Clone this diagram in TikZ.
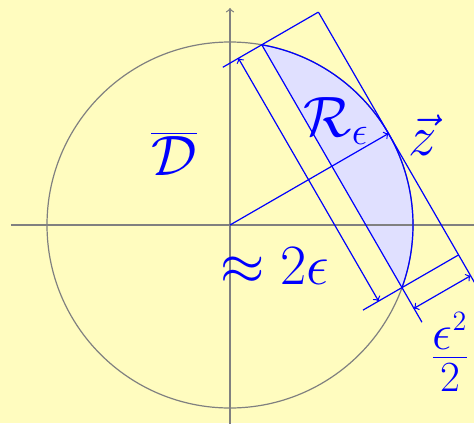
\RequirePackage{fix-cm}
\documentclass[tikz,border=0pt]{standalone}
\usetikzlibrary{calc}
\newcommand{\fracpart}[2]{\mbox{\fontsize{#1}{#1}\selectfont$#2$}}
\begin{document}
\begin{tikzpicture}[x=0.5pt,y=0.5pt,
  axisline/.style={draw=gray,line width=0.6pt},
  bline/.style={draw=blue,line width=0.6pt},
  lbl/.style={text=blue,inner sep=0pt,font=\fontsize{28.5}{34}\selectfont}]
\fill[yellow!25] (-230,-198) rectangle (244,225);
\useasboundingbox (-230,-198) rectangle (244,225);
\clip (-230,-198) rectangle (244,225);
\coordinate (O) at (0,0);
\coordinate (A) at (80:183);
\coordinate (B) at (-20:183);
\coordinate (Z) at (30:183);
\coordinate (A2) at ($(Z)+(120:140.2)$);
\coordinate (B2) at ($(Z)+(-60:140.2)$);
\coordinate (Aext) at ($(A)+(210:45)$);
\coordinate (Bext) at ($(B)+(210:45)$);
\coordinate (Bend) at ($(B)+(-60:40)$);
\coordinate (B2end) at ($(B2)+(-60:40)$);
\coordinate (D1a) at ($(A)+(210:27)$);
\coordinate (D1b) at ($(B)+(210:27)$);
\coordinate (D2a) at ($(B)+(-60:24)$);
\coordinate (D2b) at ($(B2)+(-60:24)$);
\coordinate (Xl) at (-219,0);
\coordinate (Xr) at (260,0);
\coordinate (Yb) at (0,-230);
\coordinate (Yt) at (0,217);
% cap fill
\fill[blue!12] (B) arc[start angle=-20,end angle=80,radius=183] -- cycle;
% axes and circle
\draw[axisline,->] (Yb) -- (Yt);
\draw[axisline] (Xl) -- (Xr);
\draw[axisline] (O) circle[radius=183];
% cap outline
\draw[bline] (B) arc[start angle=-20,end angle=80,radius=183];
\draw[bline] (A) -- (Bend);
\draw[bline] (A2) -- (B2end);
\draw[bline] (Aext) -- (A2);
\draw[bline] (Bext) -- (B2);
% dimensions
\draw[bline,<->] (D1a) -- (D1b);
\draw[bline,<->] (D2a) -- (D2b);
\draw[bline,->] (O) -- (Z);
% labels
\node[lbl] (Rlabel) at (106,104) {$\mathcal{R}_\epsilon$};
\node[lbl] (zlabel) at (193,90) {$\vec{z}$};
\node[lbl] (Dlabel) at (-56,71) {$\overline{\mathcal{D}}$};
\node[lbl] (dimA) at (45,-41) {$\approx 2\epsilon$};
\node[lbl,anchor=base] (dimB) at (220,-146.5) {$\frac{\fracpart{25}{\epsilon^{\fracpart{14}{2}}}}{\fracpart{21.5}{2}}$};
\end{tikzpicture}
\end{document}
